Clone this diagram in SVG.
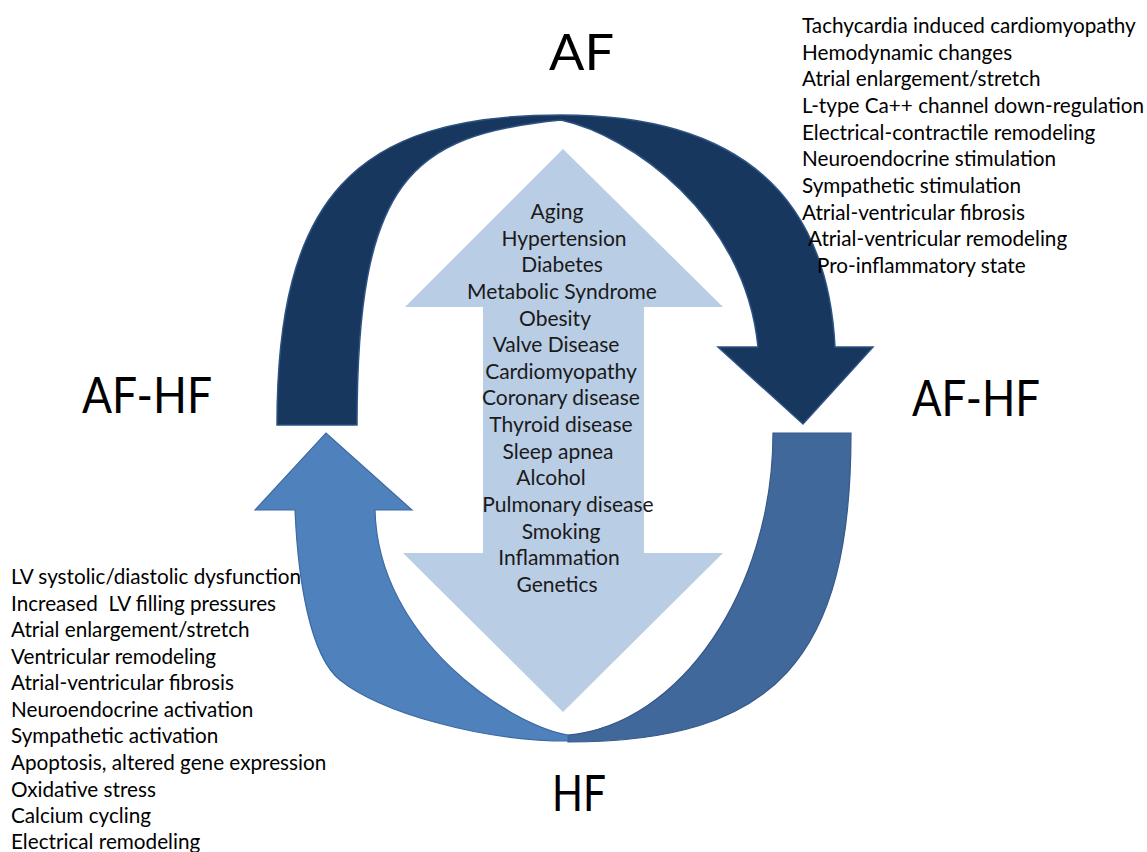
<svg xmlns="http://www.w3.org/2000/svg" width="1147" height="852" viewBox="0 0 1147 852">
  <style>
    .big { font-family: "Lato", "Liberation Sans", sans-serif; font-size: 50px; fill: #000; }
    .lst { font-family: "Lato", "Liberation Sans", sans-serif; font-size: 20.7px; fill: #000; }
    .ctr { font-family: "Lato", "Liberation Sans", sans-serif; font-size: 21px; fill: #1a1a1a; text-anchor: middle; }
    .dark { fill: #17375e; stroke: #2e5383; stroke-width: 1.5; }
    .midR { fill: #41689b; stroke: #36598a; stroke-width: 1.2; }
    .midL { fill: #4f81bd; stroke: #3c6aa3; stroke-width: 1.2; }
    .light { fill: #b9cde5; }
  </style>

  <g id="risk-factors">
    <polygon class="light" points="563,149 723,307 644,307 644,553 723,553 563,712 403,553 483,553 483,307 405,307"/>
    <text class="ctr" x="557" y="219">Aging</text>
    <text class="ctr" x="564" y="246">Hypertension</text>
    <text class="ctr" x="562" y="272">Diabetes</text>
    <text class="ctr" x="562" y="299">Metabolic Syndrome</text>
    <text class="ctr" x="555" y="326">Obesity</text>
    <text class="ctr" x="556" y="352">Valve Disease</text>
    <text class="ctr" x="561" y="379">Cardiomyopathy</text>
    <text class="ctr" x="561" y="405">Coronary disease</text>
    <text class="ctr" x="561" y="432">Thyroid disease</text>
    <text class="ctr" x="558" y="459">Sleep apnea</text>
    <text class="ctr" x="551" y="485">Alcohol</text>
    <text class="ctr" x="568" y="512">Pulmonary disease</text>
    <text class="ctr" x="561" y="539">Smoking</text>
    <text class="ctr" x="559" y="565">Inflammation</text>
    <text class="ctr" x="557" y="592">Genetics</text>
  </g>

  <g id="connectors">
    <path id="arrow-hf-to-afhf" class="midR" d="M 773,433 L 851,433 C 851,659 775,742 568,742 L 568,735 C 680,725 773,590 773,433 Z"/>
    <path id="arrow-hf-to-left-afhf" class="midL" d="M 568,741 C 480,741 380,712 340,680 C 310,656 298,580 295,510 L 255,510 L 326,433 L 412,510 L 375,510 C 378,640 510,725 568,735 Z"/>
    <path id="arrow-af-to-afhf" class="dark" d="M 277,425 C 277,199 353,115 561,115 C 790,115 830,250 835,347 L 873,347 L 803,424 L 718,347 L 758,347 C 745,215 630,135 561,120 C 410,135 357,180 357,425 Z"/>
  </g>

  <g id="node-af">
    <text class="big" x="549" y="70" textLength="65" lengthAdjust="spacingAndGlyphs">AF</text>
  </g>
  <g id="node-afhf-left">
    <text class="big" x="82" y="413" textLength="130" lengthAdjust="spacingAndGlyphs">AF-HF</text>
  </g>
  <g id="node-afhf-right">
    <text class="big" x="912" y="416" textLength="128" lengthAdjust="spacingAndGlyphs">AF-HF</text>
  </g>
  <g id="node-hf">
    <text class="big" x="552" y="811" textLength="54" lengthAdjust="spacingAndGlyphs">HF</text>
  </g>

  <g id="af-mechanisms">
    <text class="lst" x="802" y="33">Tachycardia induced cardiomyopathy</text>
    <text class="lst" x="802" y="60">Hemodynamic changes</text>
    <text class="lst" x="802" y="86">Atrial enlargement/stretch</text>
    <text class="lst" x="802" y="113">L-type Ca++ channel down-regulation</text>
    <text class="lst" x="802" y="140">Electrical-contractile remodeling</text>
    <text class="lst" x="802" y="166">Neuroendocrine stimulation</text>
    <text class="lst" x="802" y="193">Sympathetic stimulation</text>
    <text class="lst" x="802" y="220">Atrial-ventricular fibrosis</text>
    <text class="lst" x="808" y="246">Atrial-ventricular remodeling</text>
    <text class="lst" x="817" y="273">Pro-inflammatory state</text>
  </g>

  <g id="hf-mechanisms">
    <text class="lst" x="11" y="584">LV systolic/diastolic dysfunction</text>
    <text class="lst" x="11" y="611">Increased&#160; LV filling pressures</text>
    <text class="lst" x="11" y="637">Atrial enlargement/stretch</text>
    <text class="lst" x="11" y="664">Ventricular remodeling</text>
    <text class="lst" x="11" y="690">Atrial-ventricular fibrosis</text>
    <text class="lst" x="11" y="717">Neuroendocrine activation</text>
    <text class="lst" x="11" y="743">Sympathetic activation</text>
    <text class="lst" x="11" y="770">Apoptosis, altered gene expression</text>
    <text class="lst" x="11" y="797">Oxidative stress</text>
    <text class="lst" x="11" y="823">Calcium cycling</text>
    <text class="lst" x="11" y="849">Electrical remodeling</text>
  </g>
</svg>
